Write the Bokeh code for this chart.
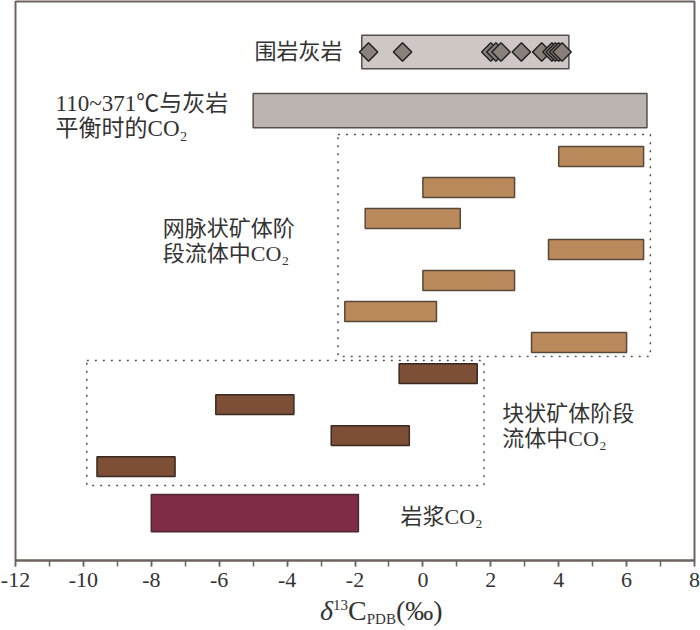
from bokeh.plotting import figure
from bokeh.models import Range1d, Label, FixedTicker, Div
from bokeh.layouts import column
from bokeh.embed import file_html
from bokeh.resources import INLINE
import math

# ---------------- data ----------------
wall_rock_range = [-1.8, 4.3]
wall_rock_points = [-1.6, -0.6, 2.0, 2.15, 2.3, 2.9, 3.5, 3.8, 3.9, 4.0, 4.1]
eq_co2_range = [-5.0, 6.6]
vein_lo = [4.0, 0.0, -1.7, 3.7, 0.0, -2.3, 3.2]
vein_hi = [6.5, 2.7, 1.1, 6.5, 2.7, 0.4, 6.0]
vein_rows = [1, 2, 3, 4, 5, 6, 7]
massive_lo = [-0.7, -6.1, -2.7, -9.6]
massive_hi = [1.6, -3.8, -0.4, -7.3]
massive_rows = [8, 9, 10, 11]
magma_range = [-8.0, -1.9]
wall_row, eq_row, magma_row = -2.37, -0.48, 12.5
x_ticks = [-12, -10, -8, -6, -4, -2, 0, 2, 4, 6, 8]
x_minor = list(range(-12, 9))

SERIF = "Liberation Serif, Noto Sans CJK SC"
TXT = "#333333"
FRAME = "#6e6360"

p = figure(width=700, height=596, output_backend="svg", toolbar_location=None,
           x_range=Range1d(-12, 8), y_range=Range1d(14.03, -4.0),
           min_border_left=15, min_border_right=6, min_border_top=1, min_border_bottom=36)
p.xgrid.visible = False
p.ygrid.visible = False
p.yaxis.visible = False
p.outline_line_color = FRAME
p.outline_line_width = 2
p.background_fill_color = "white"
p.border_fill_color = "white"

ax = p.xaxis[0]
ax.ticker = FixedTicker(ticks=x_ticks, minor_ticks=x_minor)
ax.major_label_overrides = {t: str(t) for t in x_ticks}
ax.axis_line_color = FRAME
ax.axis_line_width = 2
ax.major_tick_line_color = FRAME
ax.minor_tick_line_color = FRAME
ax.major_tick_line_width = 1.5
ax.minor_tick_line_width = 1.5
ax.major_tick_out = 6
ax.major_tick_in = 0
ax.minor_tick_out = 6
ax.minor_tick_in = 0
ax.major_label_text_font = "Liberation Serif"
ax.major_label_text_font_size = "22px"
ax.major_label_text_color = TXT
ax.major_label_standoff = 6

# wall rock bar + diamonds
p.quad(left=[wall_rock_range[0]], right=[wall_rock_range[1]],
       top=[wall_row - 0.54], bottom=[wall_row + 0.54],
       fill_color="#cfc7c3", line_color="#555050", line_width=1.5)
p.scatter(x=wall_rock_points, y=[wall_row] * len(wall_rock_points), marker="square",
          angle=math.pi / 4, size=13, fill_color="#8a807b", line_color="#222222", line_width=1.5)

# equilibrium CO2 bar
p.quad(left=[eq_co2_range[0]], right=[eq_co2_range[1]],
       top=[eq_row - 0.55], bottom=[eq_row + 0.55],
       fill_color="#bcb4b0", line_color="#555050", line_width=1.5)

# dotted boxes
p.quad(left=[-2.5], right=[6.7], top=[0.29], bottom=[7.45], fill_color=None,
       line_color="#555555", line_width=1.5, line_dash="2 6")
p.quad(left=[-9.9], right=[1.8], top=[7.58], bottom=[11.61], fill_color=None,
       line_color="#555555", line_width=1.5, line_dash="2 6")

# vein-stage bars
p.quad(left=vein_lo, right=vein_hi, top=[r - 0.32 for r in vein_rows],
       bottom=[r + 0.32 for r in vein_rows],
       fill_color="#bb8a5c", line_color="#574838", line_width=1.5)

# massive-stage bars
p.quad(left=massive_lo, right=massive_hi, top=[r - 0.32 for r in massive_rows],
       bottom=[r + 0.32 for r in massive_rows],
       fill_color="#7d4f36", line_color="#3a2a20", line_width=1.5)

# magma bar
p.quad(left=[magma_range[0]], right=[magma_range[1]],
       top=[magma_row - 0.6], bottom=[magma_row + 0.6],
       fill_color="#7e2d45", line_color="#4a2a30", line_width=1.5)

def lab(x, y, t, align="left", size="22px"):
    p.add_layout(Label(x=x, y=y, text=t, text_align=align, text_baseline="middle",
                       text_font=SERIF, text_font_size=size, text_color=TXT))

lab(-2.37, -2.39, "围岩灰岩", align="right")
lab(-10.82, -0.71, "110~371℃与灰岩", size="23px")
lab(-10.82, 0.10, "平衡时的CO₂", size="23px")
lab(-7.66, 3.32, "网脉状矿体阶")
lab(-7.66, 4.13, "段流体中CO₂")
lab(2.34, 9.29, "块状矿体阶段")
lab(2.34, 10.10, "流体中CO₂")
lab(-0.66, 12.6, "岩浆CO₂")

# x axis title: δ13C_PDB(‰)
title_html = (
    '<div style="margin:0;padding:1px 0 0 320px;font-family:\'Liberation Serif\',serif;'
    'font-size:28px;line-height:28px;color:#333333;white-space:nowrap;">'
    '<span style="font-style:italic">δ</span>'
    '<span style="font-size:15px;position:relative;top:-10px">13</span>'
    'C'
    '<span style="font-size:15px;position:relative;top:4px">PDB</span>'
    '(‰)</div>'
)
title = Div(text=title_html, width=700, height=34, margin=(0, 0, 0, 0))

layout = column(p, title, spacing=0)
open("out.html", "w").write(file_html(layout, INLINE))
